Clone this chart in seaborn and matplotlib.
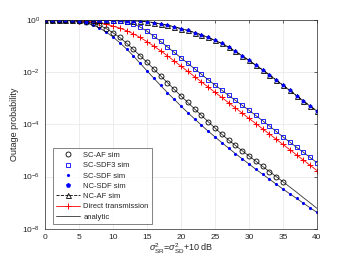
import numpy as np
import pandas as pd
import seaborn as sns
import matplotlib
matplotlib.use("Agg")
import matplotlib.pyplot as plt
from matplotlib.lines import Line2D

# x axis: sigma_SD^2 in dB
snr_db = list(range(0, 41))

# -log10(outage probability) at every 1 dB
sc_af = [0.000, 0.001, 0.003, 0.007, 0.015, 0.03, 0.06, 0.11, 0.2, 0.33,
         0.49, 0.67, 0.89, 1.13, 1.37, 1.62, 1.88, 2.14, 2.4, 2.66,
         2.91, 3.16, 3.41, 3.65, 3.9, 4.14, 4.38, 4.6, 4.81, 5.01,
         5.21, 5.41, 5.61, 5.81, 6.0, 6.2, 6.4, 6.6, 6.81, 7.01, 7.22]
sc_sdf = [0.0, 0.002, 0.006, 0.013, 0.03, 0.06, 0.11, 0.19, 0.3, 0.46,
          0.65, 0.87, 1.11, 1.38, 1.66, 1.95, 2.23, 2.51, 2.78, 3.04,
          3.3, 3.55, 3.79, 4.03, 4.26, 4.48, 4.7, 4.91, 5.12, 5.32,
          5.52, 5.72, 5.91, 6.1, 6.29, 6.48, 6.66, 6.84, 7.02, 7.2, 7.37]
sc_sdf3 = [0.0, 0.0, 0.0, 0.001, 0.001, 0.002, 0.003, 0.004, 0.006, 0.01,
           0.02, 0.04, 0.08, 0.15, 0.27, 0.43, 0.62, 0.82, 1.03, 1.24,
           1.45, 1.66, 1.87, 2.08, 2.29, 2.49, 2.69, 2.89, 3.08, 3.27,
           3.46, 3.66, 3.86, 4.06, 4.27, 4.48, 4.68, 4.88, 5.07, 5.27, 5.47]
direct = [0.0, 0.002, 0.005, 0.008, 0.012, 0.02, 0.03, 0.06, 0.1, 0.16,
          0.23, 0.31, 0.41, 0.53, 0.67, 0.83, 1.0, 1.18, 1.37, 1.57,
          1.77, 1.97, 2.17, 2.37, 2.57, 2.77, 2.97, 3.17, 3.37, 3.57,
          3.77, 3.97, 4.17, 4.37, 4.57, 4.77, 4.97, 5.17, 5.37, 5.57, 5.77]
nc = [0.0, 0.0, 0.0, 0.001, 0.001, 0.002, 0.002, 0.003, 0.004, 0.005,
      0.008, 0.012, 0.02, 0.03, 0.045, 0.065, 0.1, 0.15, 0.2, 0.26,
      0.33, 0.4, 0.48, 0.57, 0.67, 0.78, 0.9, 1.04, 1.2, 1.37,
      1.55, 1.73, 1.91, 2.1, 2.3, 2.5, 2.7, 2.9, 3.1, 3.3, 3.49]

af_sim_last = 35  # SC-AF simulation stops at 35 dB

df = pd.DataFrame({
    "snr": snr_db,
    "sc_af": 10 ** -np.array(sc_af),
    "sc_sdf": 10 ** -np.array(sc_sdf),
    "sc_sdf3": 10 ** -np.array(sc_sdf3),
    "direct": 10 ** -np.array(direct),
    "nc": 10 ** -np.array(nc),
})
df_af = df[df["snr"] <= af_sim_last]

sns.set_style("white")
plt.rcParams["font.family"] = ["Liberation Sans", "DejaVu Sans"]
plt.rcParams["mathtext.fontset"] = "custom"
plt.rcParams["mathtext.rm"] = "Liberation Sans"
plt.rcParams["mathtext.it"] = "Liberation Sans:italic"

fig = plt.figure(figsize=(3.5, 2.63), dpi=100)
ax = fig.add_axes([0.1286, 0.1304, 0.777, 0.7935])

lw = 0.6
# analytic curves
for col in ["sc_af", "sc_sdf", "sc_sdf3", "nc"]:
    sns.lineplot(data=df, x="snr", y=col, ax=ax, color="#333333", lw=lw)
# direct transmission
ax.plot(df["snr"], df["direct"], color="red", lw=lw, ls="-",
        marker="+", markersize=4.2, markeredgewidth=0.7)
# NC-AF sim dashed with triangles
ax.plot(df["snr"], df["nc"], color="black", lw=lw, ls="--",
        marker="^", markersize=3.6, markerfacecolor="none",
        markeredgecolor="black", markeredgewidth=0.6)
# NC-SDF sim stars
ax.plot(df["snr"], df["nc"], linestyle="none", marker="p", markersize=2.6,
        color="blue", markeredgewidth=0.5)
# SC-SDF3 squares
ax.plot(df["snr"], df["sc_sdf3"], linestyle="none", marker="s", markersize=3.3,
        markerfacecolor="none", markeredgecolor="blue", markeredgewidth=0.6)
# SC-SDF dots
ax.plot(df["snr"], df["sc_sdf"], linestyle="none", marker=".", markersize=2.5,
        color="blue")
# SC-AF circles
ax.plot(df_af["snr"], df_af["sc_af"], linestyle="none", marker="o", markersize=3.6,
        markerfacecolor="none", markeredgecolor="black", markeredgewidth=0.6)

ax.set_yscale("log")
ax.set_xlim(0, 40)
ax.set_ylim(1e-8, 1.0)
ax.set_xticks(range(0, 41, 5))
ax.set_yticks([1e0, 1e-2, 1e-4, 1e-6, 1e-8])
ax.yaxis.set_minor_locator(matplotlib.ticker.NullLocator())
ax.tick_params(direction="in", length=2.5, width=0.5, labelsize=6,
               colors="#262626", top=True, right=True, pad=3.5)
ax.grid(True, color="#e6e6e6", lw=0.5)
for s in ax.spines.values():
    s.set_linewidth(0.5)
    s.set_color("#262626")

ax.set_xlabel(r"$\sigma^2_{\rm SR}$=$\sigma^2_{\rm SD}$+10 dB", fontsize=6.5, color="#262626", labelpad=1)
ax.set_ylabel("Outage probability", fontsize=6.5, color="#262626", labelpad=2)

handles = [
    Line2D([], [], ls="none", marker="o", ms=3.6, mfc="none", mec="black", mew=0.6),
    Line2D([], [], ls="none", marker="s", ms=3.3, mfc="none", mec="blue", mew=0.6),
    Line2D([], [], ls="none", marker=".", ms=2.5, color="blue"),
    Line2D([], [], ls="none", marker="p", ms=3.2, color="blue", mew=0.5),
    Line2D([], [], ls="--", marker="^", ms=3.6, color="black", mfc="none", lw=lw, mew=0.6),
    Line2D([], [], ls="-", marker="+", ms=4.2, color="red", lw=lw, mew=0.7),
    Line2D([], [], ls="-", color="#333333", lw=lw),
]
labels = ["SC-AF sim", "SC-SDF3 sim", "SC-SDF sim", "NC-SDF sim", "NC-AF sim",
          "Direct transmission", "analytic"]
leg = ax.legend(handles, labels, loc="lower left", bbox_to_anchor=(0.028, 0.021),
                fontsize=5.5, frameon=True, fancybox=False, edgecolor="#262626",
                handlelength=3.1, labelspacing=0.38, borderpad=0.5, handletextpad=0.4,
                borderaxespad=0)
leg.get_frame().set_linewidth(0.5)

fig.savefig("out.png", dpi=100)
